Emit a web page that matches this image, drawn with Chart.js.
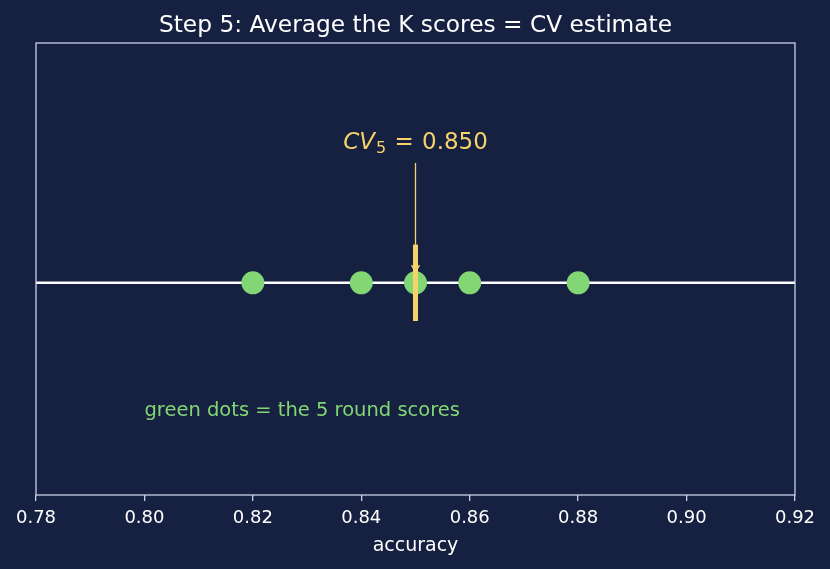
<!DOCTYPE html>
<html><head><meta charset="utf-8">
<script src="https://cdn.jsdelivr.net/npm/chart.js@4"></script>
<style>html,body{margin:0;padding:0;background:#162040;}#wrap{width:830px;height:569px;}</style>
</head><body><div id="wrap"><canvas id="c" width="830" height="569"></canvas></div>
<script>
const roundScores = [0.82, 0.84, 0.85, 0.86, 0.88];
const cvMean = 0.850;
const xTicks = [0.78, 0.80, 0.82, 0.84, 0.86, 0.88, 0.90, 0.92];
const titleText = 'Step 5: Average the K scores = CV estimate';
const noteText = 'green dots = the 5 round scores';

const BG = '#162040', FG = '#ffffff', EDGE = '#c9d1e6', GREEN = '#82d674', YEL = '#f6d36a';

const decor = {
  id: 'decor',
  beforeDraw(chart) {
    const c = chart.ctx;
    c.save(); c.fillStyle = BG; c.fillRect(0, 0, chart.width, chart.height); c.restore();
  },
  afterDatasetsDraw(chart) {
    const c = chart.ctx, a = chart.chartArea, x = chart.scales.x, y = chart.scales.y;
    c.save();
    // frame
    c.strokeStyle = EDGE; c.lineWidth = 1.3;
    c.strokeRect(a.left, a.top, a.right - a.left, a.bottom - a.top);
    // title
    c.fillStyle = FG; c.font = '23.3px "DejaVu Sans"'; c.textAlign = 'center'; c.textBaseline = 'alphabetic';
    c.fillText(titleText, (a.left + a.right) / 2, 32);
    // arrow
    const ax = x.getPixelForValue(cvMean);
    const y0 = y.getPixelForValue(0.565), y1 = y.getPixelForValue(0.05);
    c.strokeStyle = YEL; c.lineWidth = 1.3;
    c.beginPath(); c.moveTo(ax, y0); c.lineTo(ax, y1); c.stroke();
    c.beginPath(); c.moveTo(ax - 4, y1 - 7); c.lineTo(ax, y1); c.lineTo(ax + 4, y1 - 7); c.stroke();
    // annotation text
    const fi = 'italic 23px "DejaVu Sans"', fn = '23px "DejaVu Sans"', fs = '16px "DejaVu Sans"';
    c.textBaseline = 'alphabetic'; c.textAlign = 'left';
    c.font = fi; const w1 = c.measureText('CV').width;
    c.font = fs; const w2 = c.measureText('5').width;
    c.font = fn; const w3 = c.measureText(' = ' + cvMean.toFixed(3)).width + 3;
    let sx = ax - (w1 + w2 + w3) / 2;
    const base = 149;
    c.fillStyle = YEL;
    c.font = fi; c.fillText('CV', sx, base); sx += w1 + 1;
    c.font = fs; c.fillText('5', sx, base + 4); sx += w2;
    c.font = fn;
    c.fillText(' ', sx, base); sx += c.measureText(' ').width + 1;
    c.fillText('=', sx, base); sx += c.measureText('=').width + 1;
    c.fillText(' ' + cvMean.toFixed(3), sx, base);
    // note
    c.fillStyle = GREEN; c.font = '19.5px "DejaVu Sans"'; c.textBaseline = 'middle';
    c.fillText(noteText, x.getPixelForValue(0.80), 411);
    c.restore();
  }
};

new Chart(document.getElementById('c'), {
  type: 'scatter',
  data: {
    datasets: [
      { type: 'line', data: [{x: 0.78, y: 0}, {x: 0.92, y: 0}], borderColor: FG, borderWidth: 2.5, pointRadius: 0, order: 3 },
      { type: 'scatter', data: roundScores.map(v => ({x: v, y: 0})), backgroundColor: GREEN, borderColor: GREEN, borderWidth: 0, pointRadius: 11.5, pointHoverRadius: 11.5, order: 2 },
      { type: 'line', data: [{x: cvMean, y: -0.18}, {x: cvMean, y: 0.18}], borderColor: YEL, borderWidth: 5, pointRadius: 0, order: 1 }
    ]
  },
  options: {
    responsive: false, animation: false, events: [],
    layout: { padding: { left: 36, right: 35, top: 43, bottom: 0 } },
    plugins: { legend: { display: false }, tooltip: { enabled: false } },
    scales: {
      x: {
        type: 'linear', min: 0.78, max: 0.92,
        afterBuildTicks(s) { s.ticks = xTicks.map(v => ({value: v})); },
        afterFit(s) { s.height = 74; },
        border: { display: false },
        grid: { drawOnChartArea: false, drawTicks: true, tickLength: 6, color: EDGE, lineWidth: 1.3 },
        ticks: { color: FG, font: { family: 'DejaVu Sans', size: 18 }, padding: 7, maxRotation: 0, autoSkip: false, callback: v => Number(v).toFixed(2) },
        title: { display: true, text: 'accuracy', color: FG, font: { family: 'DejaVu Sans', size: 19 }, padding: { top: 4, bottom: 12 } }
      },
      y: { type: 'linear', min: -1, max: 1.13, display: false }
    }
  },
  plugins: [decor]
});
</script></body></html>
